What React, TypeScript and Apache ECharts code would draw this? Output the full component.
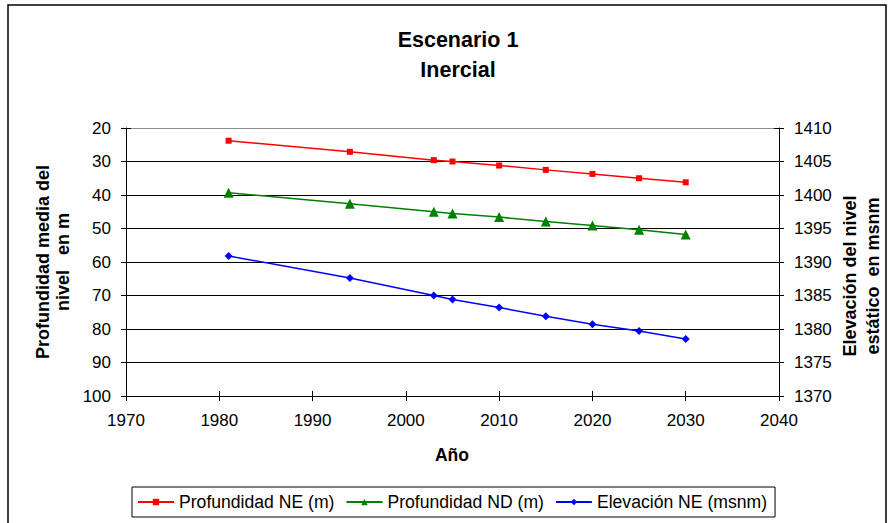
import React, { useEffect, useRef } from "react";
import * as echarts from "echarts";

// Years of each observation / projection
const years = [1981, 1994, 2003, 2005, 2010, 2015, 2020, 2025, 2030];

// Static level depth (m), left axis
const profundidadNE = [23.8, 27.1, 29.6, 30.0, 31.2, 32.5, 33.7, 35.0, 36.2];
// Dynamic level depth (m), left axis
const profundidadND = [39.3, 42.6, 45.0, 45.5, 46.6, 47.9, 49.1, 50.4, 51.8];
// Static level elevation (m a.s.l.), right axis
const elevacionNE = [1390.9, 1387.6, 1385.0, 1384.4, 1383.2, 1381.9, 1380.7, 1379.7, 1378.5];

const seriesNames = ["Profundidad NE (m)", "Profundidad ND (m)", "Elevación NE (msnm)"];

const FONT = "'Liberation Sans', Arial, sans-serif";

const pairs = (ys: number[]) => years.map((x, i) => [x, ys[i]]);
const plain = (v: number) => String(v);

export default function App() {
  const ref = useRef<HTMLDivElement>(null);

  useEffect(() => {
    if (!ref.current) return;
    const chart = echarts.init(ref.current, undefined, { renderer: "svg" });

    const labelStyle = { color: "#000", fontFamily: FONT, fontSize: 17, formatter: plain };

    chart.setOption({
      animation: false,
      backgroundColor: "#fff",
      grid: { left: 126, top: 128, width: 653, height: 268, show: false },
      xAxis: [
        {
          type: "value",
          min: 1970,
          max: 2040,
          interval: 10,
          position: "bottom",
          axisLine: { show: true, lineStyle: { color: "#000", width: 1 } },
          axisTick: { show: true, length: 5, lineStyle: { color: "#000" } },
          axisLabel: { ...labelStyle, margin: 16 },
          splitLine: { show: false },
        },
        {
          type: "value",
          min: 1970,
          max: 2040,
          interval: 10,
          position: "bottom",
          axisLine: { show: false },
          axisTick: { show: true, inside: true, length: 5, lineStyle: { color: "#000" } },
          axisLabel: { show: false },
          splitLine: { show: false },
        },
      ],
      yAxis: [
        {
          type: "value",
          inverse: true,
          min: 20,
          max: 100,
          interval: 10,
          position: "left",
          axisLine: { show: true, lineStyle: { color: "#000", width: 1 } },
          axisTick: { show: true, length: 5, lineStyle: { color: "#000" } },
          axisLabel: { ...labelStyle, margin: 15 },
          splitLine: {
            show: true,
            lineStyle: {
              color: ["#8c8c8c", "#000", "#000", "#000", "#000", "#000", "#000", "#000", "#000"],
              width: 1,
            },
          },
        },
        {
          type: "value",
          min: 1370,
          max: 1410,
          interval: 5,
          position: "right",
          axisLine: { show: true, lineStyle: { color: "#000", width: 1 } },
          axisTick: { show: true, length: 5, lineStyle: { color: "#000" } },
          axisLabel: { ...labelStyle, margin: 15 },
          splitLine: { show: false },
        },
        {
          type: "value",
          inverse: true,
          min: 20,
          max: 100,
          interval: 10,
          position: "left",
          axisLine: { show: false },
          axisTick: { show: true, inside: true, length: 5, lineStyle: { color: "#000" } },
          axisLabel: { show: false },
          splitLine: { show: false },
        },
        {
          type: "value",
          min: 1370,
          max: 1410,
          interval: 5,
          position: "right",
          axisLine: { show: false },
          axisTick: { show: true, inside: true, length: 5, lineStyle: { color: "#000" } },
          axisLabel: { show: false },
          splitLine: { show: false },
        },
      ],
      legend: {
        left: 132,
        top: 487,
        orient: "horizontal",
        padding: [6, 8, 6, 5],
        itemGap: 11,
        itemWidth: 36,
        itemHeight: 8,
        borderColor: "#000",
        borderWidth: 1,
        textStyle: { color: "#000", fontFamily: FONT, fontSize: 17.6 },
        data: seriesNames,
      },
      graphic: [
        {
          type: "rect",
          silent: true,
          shape: { x: 8, y: 5, width: 878, height: 530 },
          style: { fill: "none", stroke: "#000", lineWidth: 1.5 },
        },
        {
          type: "text",
          x: 458,
          y: 55,
          style: {
            text: "Escenario 1\nInercial",
            align: "center",
            verticalAlign: "middle",
            fontFamily: FONT,
            fontWeight: "bold",
            fontSize: 21.5,
            lineHeight: 30,
            fill: "#000",
          },
        },
        {
          type: "text",
          x: 452,
          y: 455,
          style: {
            text: "Año",
            align: "center",
            verticalAlign: "middle",
            fontFamily: FONT,
            fontWeight: "bold",
            fontSize: 17.5,
            fill: "#000",
          },
        },
        {
          type: "text",
          x: 53,
          y: 262,
          rotation: Math.PI / 2,
          style: {
            text: "Profundidad media del\nnivel   en m",
            align: "center",
            verticalAlign: "middle",
            fontFamily: FONT,
            fontWeight: "bold",
            fontSize: 18,
            lineHeight: 20,
            fill: "#000",
          },
        },
        {
          type: "text",
          x: 861,
          y: 276,
          rotation: Math.PI / 2,
          style: {
            text: "Elevación del nivel\nestático  en msnm",
            align: "center",
            verticalAlign: "middle",
            fontFamily: FONT,
            fontWeight: "bold",
            fontSize: 18,
            lineHeight: 23,
            fill: "#000",
          },
        },
      ],
      series: [
        {
          name: seriesNames[0],
          type: "line",
          xAxisIndex: 0,
          yAxisIndex: 0,
          data: pairs(profundidadNE),
          symbol: "rect",
          symbolSize: 6,
          lineStyle: { color: "#ff0000", width: 1.5 },
          itemStyle: { color: "#ff0000" },
        },
        {
          name: seriesNames[1],
          type: "line",
          xAxisIndex: 0,
          yAxisIndex: 0,
          data: pairs(profundidadND),
          symbol: "triangle",
          symbolSize: 10,
          lineStyle: { color: "#008000", width: 1.5 },
          itemStyle: { color: "#008000" },
        },
        {
          name: seriesNames[2],
          type: "line",
          xAxisIndex: 0,
          yAxisIndex: 1,
          data: pairs(elevacionNE),
          symbol: "diamond",
          symbolSize: 8,
          lineStyle: { color: "#0000ff", width: 1.5 },
          itemStyle: { color: "#0000ff" },
        },
      ],
    });

    return () => chart.dispose();
  }, []);

  return (
    <div
      ref={ref}
      style={{ position: "fixed", left: 0, top: 0, width: 891, height: 523, background: "#fff" }}
    />
  );
}
